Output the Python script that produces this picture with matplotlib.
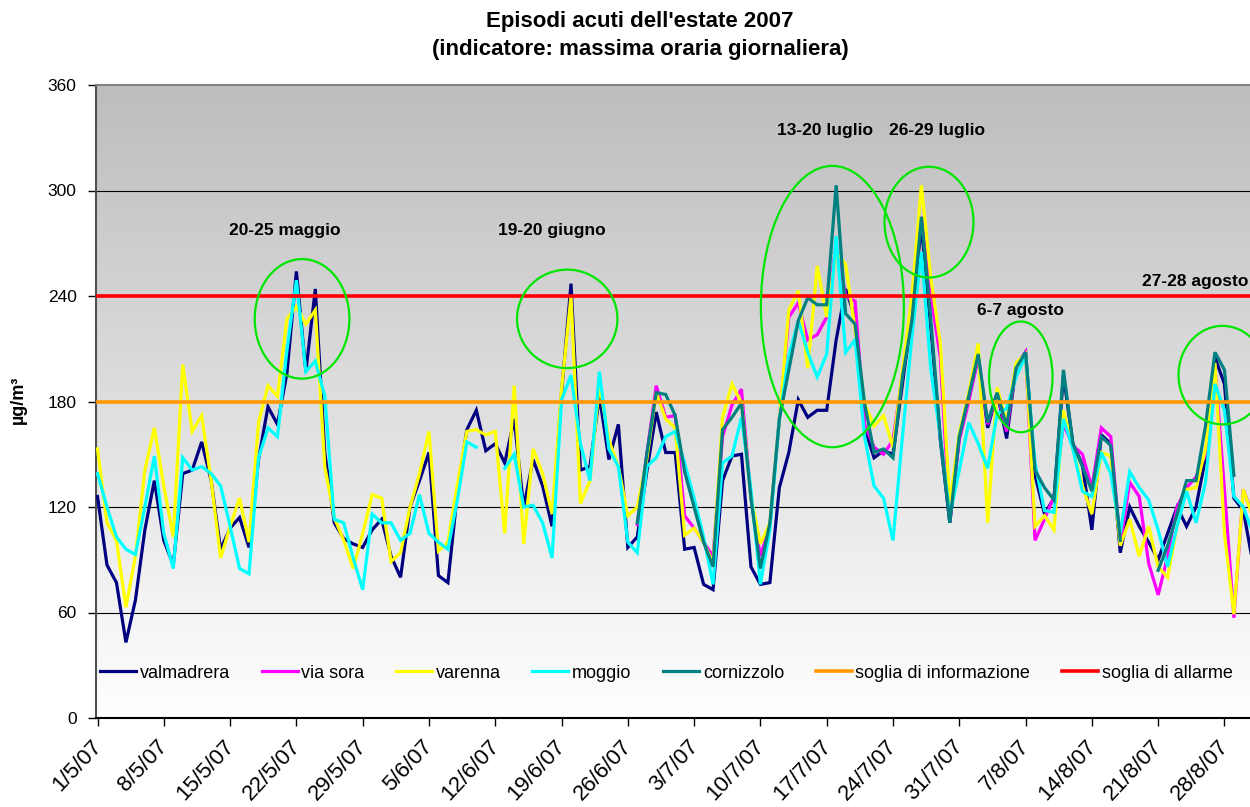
import numpy as np
import pandas as pd
import matplotlib
matplotlib.use("Agg")
import matplotlib.pyplot as plt
from matplotlib.patches import Ellipse
from matplotlib.colors import LinearSegmentedColormap
from matplotlib.transforms import ScaledTranslation

plt.rcParams['font.family'] = ['Liberation Sans', 'DejaVu Sans']

# === DATA (daily max hourly, µg/m3) from 1/5/2007 ===
dates = pd.date_range("2007-05-01", "2007-08-31", freq="D")
nan = np.nan

valmadrera = [126, 87, 77, 43, 67, 107, 135, 101, 87, 139, 141, 157, 135, 96, 108, 114, 97, 147, 177, 167,
              196, 254, 197, 244, 151, 111, 102, 99, 97, 107, 113, 92, 80, 120, 135, 151, 81, 77, 128, 164,
              175, 152, 156, 145, 170, 120, 147, 132, 109, 185, 247, 141, 143, 183, 147, 167, 97, 103, 140, 174,
              151, 151, 96, 97, 76, 73, 135, 149, 150, 86, 76, 77, 131, 151, 181, 171, 175, 175, 215, 244,
              228, 165, 148, 152, 150, 190, 230, 280, 222, 158, 111, 160, 182, 205, 165, 185, 159, 200, 208, 138,
              116, 125, 195, 156, 144, 107, 161, 156, 94, 120, 109, 100, 90, 105, 120, 109, 120, 148, 205, 190,
              125, 118, 88]

via_sora = [nan] * 57 + [110, 150, 189,
            171, 172, 115, 108, 100, 92, 160, 178, 187, 125, 92, 110, 170, 228, 236, 215, 218, 228, 270, 240,
            237, 167, 154, 150, 158, 195, 235, 285, 240, 205, 112, 158, 180, 205, 167, 185, 163, 200, 208, 101,
            113, 126, 167, 155, 150, 131, 165, 160, 99, 134, 126, 88, 70, 92, 120, 131, 137, 150, 200, 130,
            57, 130, 115]

varenna = [153, 111, 101, 63, 92, 141, 165, 132, 103, 201, 163, 172, 135, 91, 109, 125, 100, 168, 189, 183,
           227, 234, 224, 232, 143, 114, 101, 85, 105, 127, 125, 89, 94, 120, 139, 163, 95, 100, 133, 163,
           164, 161, 163, 105, 189, 99, 153, 139, 116, 187, 240, 122, 135, 190, 158, 143, 115, 120, 147, 185,
           170, 165, 104, 108, 100, 88, 171, 190, 179, 126, 99, 111, 170, 232, 243, 199, 257, 228, 265, 258,
           221, 179, 166, 172, 154, 198, 240, 303, 250, 213, 122, 162, 185, 213, 111, 188, 168, 202, 207, 109,
           115, 107, 175, 153, 132, 116, 151, 149, 98, 113, 92, 109, 86, 80, 109, 130, 131, 153, 202, 105,
           59, 130, 114]

moggio = [139, 120, 103, 96, 93, 120, 149, 105, 85, 148, 141, 143, 139, 132, 109, 85, 82, 148, 165, 160,
          209, 249, 197, 203, 183, 113, 111, 91, 73, 116, 111, 111, 101, 105, 127, 105, 100, 96, 124, 157,
          154, nan, nan, 142, 150, 120, 121, 111, 91, 181, 195, 156, 135, 197, 153, 143, 100, 94, 143, 148,
          160, 163, 145, 125, 103, 76, 145, 149, 171, 130, 76, 107, 170, 206, 226, 208, 194, 207, 274, 208,
          215, 160, 132, 125, 101, 160, 217, 265, 198, 160, 115, 141, 168, 156, 142, 173, 176, 194, 206, 145,
          118, 117, 170, 153, 129, 126, 151, 139, 105, 140, 131, 124, 107, 86, 109, 129, 111, 134, 190, 175,
          126, 120, 105]

cornizzolo = [nan] * 57 + [111, 150, 185,
              184, 172, 140, 120, 100, 86, 164, 171, 179, 125, 85, 111, 170, 198, 226, 239, 235, 235, 303, 230,
              224, 179, 151, 153, 148, 194, 226, 285, 226, 160, 111, 160, 183, 207, 168, 185, 166, 199, 208, 141,
              131, 124, 198, 156, 143, 129, 160, 155, 101, nan, nan, nan, 84, 98, 116, 135, 135, 166, 208, 198,
              138, nan, nan]

soglia_info = 180
soglia_allarme = 240

series_names = ["valmadrera", "via sora", "varenna", "moggio", "cornizzolo"]
series_colors = ["#000080", "#ff00ff", "#ffff00", "#00ffff", "#008080"]

# episodes: label, label x (day), label value, ha, ellipse centre (day, value), width (days), height
episodes = [
    ("20-25 maggio", 19.8, 277, "center", 21.6, 227, 10.0, 68),
    ("19-20 giugno", 48.0, 277, "center", 49.6, 227, 10.6, 56),
    ("13-20 luglio", 76.8, 334, "center", 77.6, 234, 15.1, 160),
    ("26-29 luglio", 88.6, 334, "center", 87.8, 282, 9.4, 63),
    ("6-7 agosto", 97.5, 232, "center", 97.5, 194, 6.7, 63),
    ("27-28 agosto", 110.3, 248, "left", 118.8, 195, 9.3, 56),
]

# === FIGURE ===
fig = plt.figure(figsize=(12.5, 8.07), dpi=100)
ax = fig.add_axes([96 / 1250, 89 / 807, 1154 / 1250, 633 / 807])

days = np.arange(len(dates))
xmin, xmax = -0.16, 121.7

# grey -> white gradient of the plot area
cmap = LinearSegmentedColormap.from_list("bg", ["#ffffff", "#bdbdbd"])
ax.imshow(np.linspace(0, 1, 256)[:, None], extent=[xmin, xmax, 0, 360], origin="lower",
          aspect="auto", cmap=cmap, zorder=0)

for yv in [60, 120, 180, 240, 300]:
    ax.axhline(yv, color="black", lw=0.8, zorder=1)

data = [valmadrera, via_sora, varenna, moggio, cornizzolo]
for name, vals, col in zip(series_names, data, series_colors):
    ax.plot(days, vals, color=col, lw=2.3, label=name, zorder=3, solid_joinstyle="miter")

ax.plot(days, [soglia_info] * len(days), color="#ff9900", lw=2.6, label="soglia di informazione", zorder=4)
ax.plot(days, [soglia_allarme] * len(days), color="#ff0000", lw=2.6, label="soglia di allarme", zorder=4)

for lab, tx, ty, ha, ex, ey, ew, eh in episodes:
    ax.add_patch(Ellipse((ex, ey), ew, eh, fill=False, edgecolor="#00e600", lw=1.6, zorder=5))
    ax.text(tx, ty, lab, ha=ha, va="center", fontsize=12.5, fontweight="bold", zorder=6)

ax.set_xlim(xmin, xmax)
ax.set_ylim(0, 360)
ax.set_yticks(range(0, 361, 60))
ax.tick_params(axis="y", labelsize=12.5, length=6, width=1, direction="out", pad=8)

tick_idx = list(range(0, len(dates), 7))
ax.set_xticks(tick_idx)
ax.set_xticklabels([f"{dates[i].day}/{dates[i].month}/07" for i in tick_idx],
                   rotation=47, ha="right", va="top", rotation_mode="anchor", fontsize=16)
ax.tick_params(axis="x", length=6, width=1, direction="out", pad=7)
shift = ScaledTranslation(-7 / 100, 0, fig.dpi_scale_trans)
for lbl in ax.get_xticklabels():
    lbl.set_transform(lbl.get_transform() + shift)

ax.spines["right"].set_visible(False)
ax.spines["top"].set_color("#808080")
ax.spines["top"].set_linewidth(1.5)
ax.spines["left"].set_color("#505050")
ax.spines["left"].set_linewidth(1.5)
ax.spines["bottom"].set_color("black")
ax.spines["bottom"].set_linewidth(1.5)

ax.legend(loc="center left", bbox_to_anchor=(0.0035, 0.071), ncol=7, frameon=False,
          fontsize=13, handlelength=2.0, handletextpad=0.2, columnspacing=1.75,
          borderpad=0, borderaxespad=0)

fig.text(0.512, 1 - 22 / 807, "Episodi acuti dell'estate 2007", ha="center", va="center",
         fontsize=16, fontweight="bold")
fig.text(0.512, 1 - 50 / 807, "(indicatore: massima oraria giornaliera)", ha="center", va="center",
         fontsize=16, fontweight="bold")
fig.text(18 / 1250, 1 - 400 / 807, "µg/m³", rotation=90, ha="center", va="center",
         fontsize=13, fontweight="bold")

fig.savefig("out.png", dpi=100)
